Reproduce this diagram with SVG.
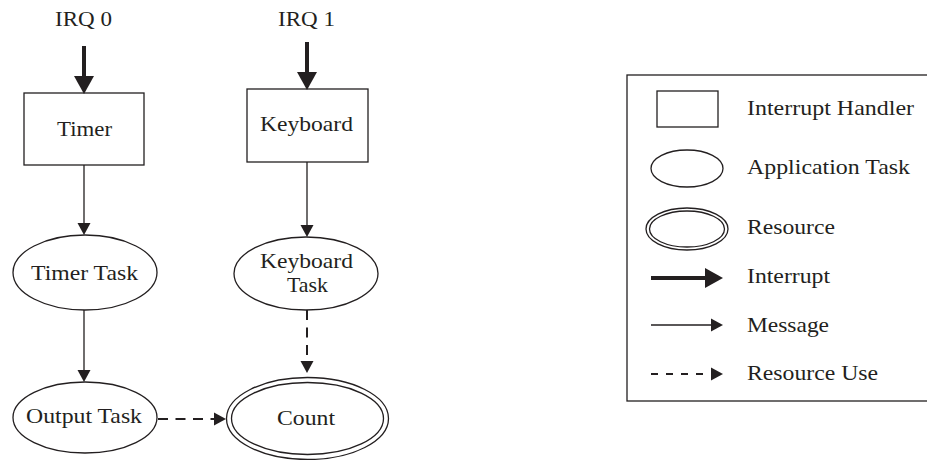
<svg xmlns="http://www.w3.org/2000/svg" width="927" height="460" viewBox="0 0 927 460">
  <style>
    .shape { fill: #ffffff; stroke: #231f20; stroke-width: 1.3; }
    .label { font-family: "Liberation Serif", "Times New Roman", serif; font-size: 21px; fill: #231f20; }
    .interrupt { fill: none; stroke: #231f20; stroke-width: 4; }
    .message { fill: none; stroke: #231f20; stroke-width: 1.3; }
    .resource { fill: none; stroke: #231f20; stroke-width: 2; stroke-dasharray: 10 7.5; }
    .legend-resource { fill: none; stroke: #231f20; stroke-width: 2; stroke-dasharray: 7 8; }
  </style>
  <defs>
    <!-- arrowheads start at the end of the line and extend forward -->
    <marker id="head-thick" markerUnits="userSpaceOnUse" markerWidth="20" markerHeight="22" refX="0" refY="10" orient="auto" overflow="visible">
      <polygon points="0,0 18,10 0,20" fill="#231f20"/>
    </marker>
    <marker id="head-thin" markerUnits="userSpaceOnUse" markerWidth="14" markerHeight="14" refX="0" refY="6.5" orient="auto" overflow="visible">
      <polygon points="0,0 12,6.5 0,13" fill="#231f20"/>
    </marker>
  </defs>

  <!-- interrupt sources -->
  <g id="irq0">
    <text class="label" x="55" y="26" textLength="57" lengthAdjust="spacingAndGlyphs">IRQ 0</text>
  </g>
  <g id="irq1">
    <text class="label" x="278" y="26" textLength="57" lengthAdjust="spacingAndGlyphs">IRQ 1</text>
  </g>

  <!-- interrupt handlers -->
  <g id="timer">
    <rect class="shape" x="24" y="93" width="120" height="72"/>
    <text class="label" x="57" y="136" textLength="55" lengthAdjust="spacingAndGlyphs">Timer</text>
  </g>
  <g id="keyboard">
    <rect class="shape" x="247" y="89" width="121" height="73"/>
    <text class="label" x="260" y="131" textLength="93" lengthAdjust="spacingAndGlyphs">Keyboard</text>
  </g>

  <!-- application tasks -->
  <g id="timer-task">
    <ellipse class="shape" cx="85" cy="272.5" rx="72" ry="37.5"/>
    <text class="label" x="31" y="280" textLength="107" lengthAdjust="spacingAndGlyphs">Timer Task</text>
  </g>
  <g id="keyboard-task">
    <ellipse class="shape" cx="306" cy="273.5" rx="72" ry="36.5"/>
    <text class="label" x="260" y="268" textLength="93" lengthAdjust="spacingAndGlyphs">Keyboard</text>
    <text class="label" x="287" y="292" textLength="41" lengthAdjust="spacingAndGlyphs">Task</text>
  </g>
  <g id="output-task">
    <ellipse class="shape" cx="85" cy="417.5" rx="72" ry="35.5"/>
    <text class="label" x="26" y="423" textLength="116" lengthAdjust="spacingAndGlyphs">Output Task</text>
  </g>

  <!-- shared resource -->
  <g id="count">
    <ellipse class="shape" cx="307.5" cy="418.5" rx="81" ry="41"/>
    <ellipse class="shape" cx="307.5" cy="418.5" rx="76" ry="36"/>
    <text class="label" x="277" y="425" textLength="58" lengthAdjust="spacingAndGlyphs">Count</text>
  </g>

  <!-- connectors -->
  <g id="connectors">
    <path class="interrupt" d="M84,46 V76" marker-end="url(#head-thick)"/>
    <path class="interrupt" d="M307,42 V72" marker-end="url(#head-thick)"/>
    <path class="message" d="M84,165 V223" marker-end="url(#head-thin)"/>
    <path class="message" d="M307,162 V225" marker-end="url(#head-thin)"/>
    <path class="message" d="M84,310 V370" marker-end="url(#head-thin)"/>
    <path class="resource" d="M307,310 V361" marker-end="url(#head-thin)"/>
    <path class="resource" d="M158,419 H214" marker-end="url(#head-thin)"/>
  </g>

  <!-- legend -->
  <g id="legend">
    <rect class="shape" x="627" y="75" width="310" height="326"/>
    <rect class="shape" x="657" y="91" width="61" height="36"/>
    <text class="label" x="747" y="115" textLength="167" lengthAdjust="spacingAndGlyphs">Interrupt Handler</text>
    <ellipse class="shape" cx="687" cy="168.5" rx="36" ry="18.5"/>
    <text class="label" x="747" y="174" textLength="163" lengthAdjust="spacingAndGlyphs">Application Task</text>
    <ellipse class="shape" cx="687" cy="229" rx="41" ry="21"/>
    <ellipse class="shape" cx="687" cy="229" rx="37.5" ry="18"/>
    <text class="label" x="747" y="234" textLength="88" lengthAdjust="spacingAndGlyphs">Resource</text>
    <path class="interrupt" d="M651,278 H705" marker-end="url(#head-thick)"/>
    <text class="label" x="747" y="283" textLength="83" lengthAdjust="spacingAndGlyphs">Interrupt</text>
    <path class="message" d="M651,325 H711" marker-end="url(#head-thin)"/>
    <text class="label" x="747" y="332" textLength="82" lengthAdjust="spacingAndGlyphs">Message</text>
    <path class="legend-resource" d="M651,374 H711" marker-end="url(#head-thin)"/>
    <text class="label" x="747" y="380" textLength="131" lengthAdjust="spacingAndGlyphs">Resource Use</text>
  </g>
</svg>
